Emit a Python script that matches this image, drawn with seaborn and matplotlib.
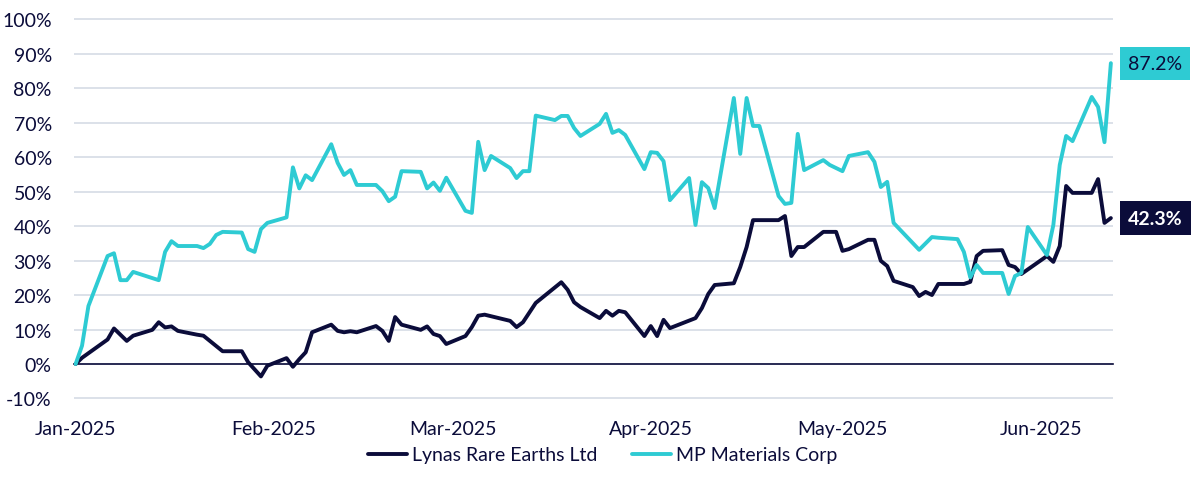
"""
Lynas vs MP Materials - YTD 2025 performance
"""
import pandas as pd
import matplotlib.pyplot as plt
import matplotlib.dates as mdates
import seaborn as sns

NAVY = '#0b0c3a'
TEAL = '#2ecbd3'
GRID = '#d9dee7'

series_names = ['Lynas Rare Earths Ltd', 'MP Materials Corp']

lynas_dates = [
    '2025-01-01', '2025-01-02', '2025-01-06', '2025-01-07', '2025-01-09', '2025-01-10',
    '2025-01-13', '2025-01-14', '2025-01-15', '2025-01-16', '2025-01-17', '2025-01-20',
    '2025-01-21', '2025-01-24', '2025-01-27', '2025-01-28', '2025-01-30', '2025-01-31',
    '2025-02-03', '2025-02-04', '2025-02-05', '2025-02-06', '2025-02-07', '2025-02-10',
    '2025-02-11', '2025-02-12', '2025-02-13', '2025-02-14', '2025-02-17', '2025-02-18',
    '2025-02-19', '2025-02-20', '2025-02-21', '2025-02-24', '2025-02-25', '2025-02-26',
    '2025-02-27', '2025-02-28', '2025-03-03', '2025-03-04', '2025-03-05', '2025-03-06',
    '2025-03-10', '2025-03-11', '2025-03-12', '2025-03-14', '2025-03-18', '2025-03-19',
    '2025-03-20', '2025-03-21', '2025-03-24', '2025-03-25', '2025-03-26', '2025-03-27',
    '2025-03-28', '2025-03-31', '2025-04-01', '2025-04-02', '2025-04-03', '2025-04-04',
    '2025-04-08', '2025-04-09', '2025-04-10', '2025-04-11', '2025-04-14', '2025-04-15',
    '2025-04-16', '2025-04-17', '2025-04-21', '2025-04-22', '2025-04-23', '2025-04-24',
    '2025-04-25', '2025-04-28', '2025-04-30', '2025-05-01', '2025-05-02', '2025-05-05',
    '2025-05-06', '2025-05-07', '2025-05-08', '2025-05-09', '2025-05-12', '2025-05-13',
    '2025-05-14', '2025-05-15', '2025-05-16', '2025-05-20', '2025-05-21', '2025-05-22',
    '2025-05-23', '2025-05-26', '2025-05-27', '2025-05-28', '2025-05-29', '2025-06-02',
    '2025-06-03', '2025-06-04', '2025-06-05', '2025-06-06', '2025-06-09', '2025-06-10',
    '2025-06-11', '2025-06-12',
]
lynas_values = [
    0.0, 1.8, 7.1, 10.3, 6.7, 8.2,
    9.9, 12.1, 10.6, 10.9, 9.6, 8.5,
    8.2, 3.7, 3.7, 0.5, -3.6, -0.5,
    1.7, -0.8, 1.4, 3.4, 9.2, 11.4,
    9.6, 9.2, 9.5, 9.2, 11.0, 9.6,
    6.7, 13.6, 11.4, 9.9, 10.9, 8.7,
    8.1, 5.8, 8.1, 10.7, 14.0, 14.3,
    12.5, 10.7, 12.1, 17.7, 23.7, 21.5,
    17.9, 16.5, 13.3, 15.4, 14.0, 15.4,
    15.0, 8.1, 11.0, 8.1, 12.8, 10.4,
    13.3, 16.2, 20.3, 22.9, 23.4, 28.1,
    33.9, 41.7, 41.7, 42.9, 31.3, 33.9,
    33.9, 38.3, 38.3, 32.8, 33.3, 36.0,
    36.0, 29.9, 28.4, 24.1, 22.3, 19.7,
    20.9, 20.0, 23.2, 23.2, 23.8, 31.3,
    32.8, 33.0, 28.7, 28.1, 26.1, 31.3,
    29.6, 34.2, 51.6, 49.6, 49.6, 53.6,
    40.9, 42.3,
]

mp_dates = [
    '2025-01-01', '2025-01-02', '2025-01-03', '2025-01-06', '2025-01-07', '2025-01-08',
    '2025-01-09', '2025-01-10', '2025-01-14', '2025-01-15', '2025-01-16', '2025-01-17',
    '2025-01-20', '2025-01-21', '2025-01-22', '2025-01-23', '2025-01-24', '2025-01-27',
    '2025-01-28', '2025-01-29', '2025-01-30', '2025-01-31', '2025-02-03', '2025-02-04',
    '2025-02-05', '2025-02-06', '2025-02-07', '2025-02-10', '2025-02-11', '2025-02-12',
    '2025-02-13', '2025-02-14', '2025-02-17', '2025-02-18', '2025-02-19', '2025-02-20',
    '2025-02-21', '2025-02-24', '2025-02-25', '2025-02-26', '2025-02-27', '2025-02-28',
    '2025-03-03', '2025-03-04', '2025-03-05', '2025-03-06', '2025-03-07', '2025-03-10',
    '2025-03-11', '2025-03-12', '2025-03-13', '2025-03-14', '2025-03-17', '2025-03-18',
    '2025-03-19', '2025-03-20', '2025-03-21', '2025-03-24', '2025-03-25', '2025-03-26',
    '2025-03-27', '2025-03-28', '2025-03-31', '2025-04-01', '2025-04-02', '2025-04-03',
    '2025-04-04', '2025-04-07', '2025-04-08', '2025-04-09', '2025-04-10', '2025-04-11',
    '2025-04-14', '2025-04-15', '2025-04-16', '2025-04-17', '2025-04-18', '2025-04-21',
    '2025-04-22', '2025-04-23', '2025-04-24', '2025-04-25', '2025-04-28', '2025-04-29',
    '2025-05-01', '2025-05-02', '2025-05-05', '2025-05-06', '2025-05-07', '2025-05-08',
    '2025-05-09', '2025-05-13', '2025-05-15', '2025-05-16', '2025-05-19', '2025-05-20',
    '2025-05-21', '2025-05-22', '2025-05-23', '2025-05-26', '2025-05-27', '2025-05-28',
    '2025-05-29', '2025-05-30', '2025-06-02', '2025-06-03', '2025-06-04', '2025-06-05',
    '2025-06-06', '2025-06-09', '2025-06-10', '2025-06-11', '2025-06-12',
]
mp_values = [
    0.0, 5.3, 16.8, 31.3, 32.1, 24.3,
    24.3, 26.7, 24.3, 32.5, 35.6, 34.2,
    34.2, 33.6, 34.8, 37.4, 38.3, 38.1,
    33.3, 32.5, 39.1, 40.9, 42.5, 57.0,
    50.9, 54.7, 53.3, 63.7, 58.3, 54.8,
    56.2, 51.9, 51.9, 50.1, 47.2, 48.5,
    55.9, 55.7, 50.9, 52.6, 50.2, 54.0,
    44.4, 43.8, 64.4, 56.2, 60.3, 56.8,
    53.9, 55.9, 55.9, 72.0, 70.7, 71.9,
    71.9, 68.4, 66.1, 69.6, 72.5, 67.0,
    67.8, 66.4, 56.5, 61.4, 61.2, 58.8,
    47.5, 53.9, 40.3, 52.7, 51.0, 45.2,
    77.1, 60.9, 77.1, 69.0, 69.0, 48.7,
    46.4, 46.7, 66.7, 56.2, 59.1, 57.7,
    55.9, 60.3, 61.4, 58.6, 51.3, 52.8,
    40.9, 33.1, 36.8, 36.6, 36.2, 32.5,
    25.1, 28.7, 26.4, 26.4, 20.3, 25.5,
    26.4, 39.7, 31.6, 40.3, 57.7, 66.1,
    64.6, 77.4, 74.5, 64.3, 87.2,
]

y_ticks = [-10, 0, 10, 20, 30, 40, 50, 60, 70, 80, 90, 100]

df = pd.concat([
    pd.DataFrame({'date': pd.to_datetime(lynas_dates), 'ret': lynas_values, 'name': series_names[0]}),
    pd.DataFrame({'date': pd.to_datetime(mp_dates), 'ret': mp_values, 'name': series_names[1]}),
], ignore_index=True)

sns.set_theme(style='white')
plt.rcParams['font.family'] = ['Lato', 'DejaVu Sans']

fig = plt.figure(figsize=(12, 4.89), dpi=100)
ax = fig.add_axes([0.0617, 0.1795, 0.8658, 0.7831])

sns.lineplot(data=df, x='date', y='ret', hue='name', hue_order=series_names,
             palette=[NAVY, TEAL], linewidth=2.8, ax=ax)

ax.set_ylim(-10.5, 100.5)
ax.set_xlim(pd.Timestamp('2025-01-01') - pd.Timedelta(hours=6),
            pd.Timestamp('2025-06-12') + pd.Timedelta(hours=8))
ax.set_yticks(y_ticks)
ax.set_yticklabels([f'{t}%' for t in y_ticks])
ax.xaxis.set_major_locator(mdates.MonthLocator())
ax.xaxis.set_major_formatter(mdates.DateFormatter('%b-%Y'))
ax.set_xlabel('')
ax.set_ylabel('')

ax.yaxis.grid(True, color=GRID, linewidth=1.3)
ax.xaxis.grid(False)
for s in ['top', 'right', 'left']:
    ax.spines[s].set_visible(False)
ax.spines['bottom'].set_position(('data', 0))
ax.spines['bottom'].set_color(NAVY)
ax.spines['bottom'].set_linewidth(1.2)
ax.spines['bottom'].set_zorder(1.5)

ax.tick_params(axis='y', length=0, pad=16, labelsize=14, labelcolor=NAVY)
ax.tick_params(axis='x', direction='out', length=4, width=1, color=NAVY,
               pad=36, labelsize=14, labelcolor=NAVY)

# end labels
trans = ax.get_yaxis_transform()
ax.text(1.0145, mp_values[-1], f'{mp_values[-1]:.1f}%', transform=trans,
        ha='left', va='center', fontsize=14, color=NAVY,
        bbox=dict(boxstyle='square,pad=0.42', fc=TEAL, ec='none'))
ax.text(1.0145, lynas_values[-1], f'{lynas_values[-1]:.1f}%', transform=trans,
        ha='left', va='center', fontsize=14, color='white', fontweight='bold',
        bbox=dict(boxstyle='square,pad=0.42', fc=NAVY, ec='none'))

handles, labels = ax.get_legend_handles_labels()
ax.legend(handles, labels, loc='center', bbox_to_anchor=(0.502, 0.0675),
          bbox_transform=fig.transFigure, ncol=2, frameon=False, fontsize=14,
          handlelength=2.0, handletextpad=0.25, columnspacing=1.8,
          labelcolor=NAVY)

fig.savefig('out.png', dpi=100)
